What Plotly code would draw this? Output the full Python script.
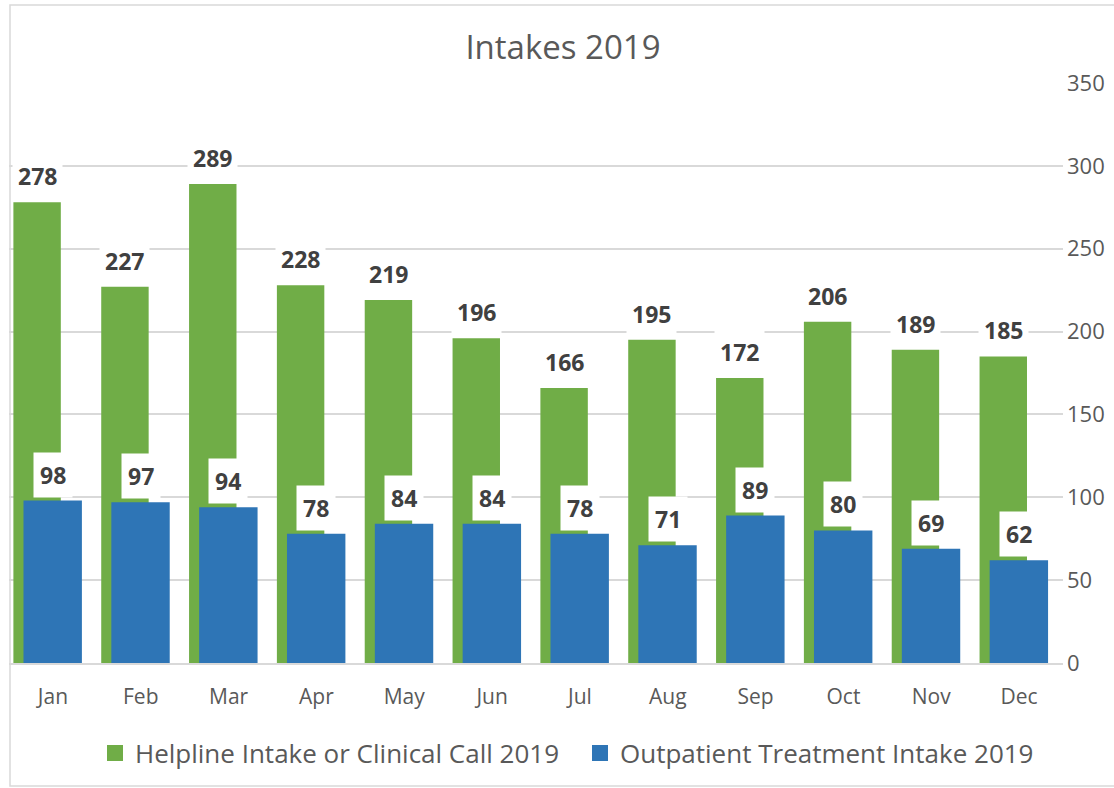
import plotly.graph_objects as go

months = ["Jan", "Feb", "Mar", "Apr", "May", "Jun", "Jul", "Aug", "Sep", "Oct", "Nov", "Dec"]
helpline = [278, 227, 289, 228, 219, 196, 166, 195, 172, 206, 189, 185]
outpatient = [98, 97, 94, 78, 84, 84, 78, 71, 89, 80, 69, 62]
y_ticks = [0, 50, 100, 150, 200, 250, 300, 350]
names = ["Helpline Intake or Clinical Call 2019", "Outpatient Treatment Intake 2019"]

GREEN = "#70AD47"
BLUE = "#2E75B6"
TXT = "#595959"
LBL = "#404040"
GRID = "#D9D9D9"

xs = list(range(len(months)))
g_off, g_w = -0.45, 0.54
b_off, b_w = -0.335, 0.665

fig = go.Figure()
fig.add_trace(go.Bar(x=xs, y=helpline, name=names[0], showlegend=False,
                     marker=dict(color=GREEN, line=dict(width=0)),
                     offset=g_off, width=g_w))
fig.add_trace(go.Bar(x=xs, y=outpatient, name=names[1], showlegend=False,
                     marker=dict(color=BLUE, line=dict(width=0)),
                     offset=b_off, width=b_w))
# legend entries with larger square markers
for nm, col in zip(names, [GREEN, BLUE]):
    fig.add_trace(go.Scatter(x=[None], y=[None], mode="markers", name=nm,
                             marker=dict(symbol="square", size=17, color=col)))

annos = []
for i, v in enumerate(helpline):
    annos.append(dict(x=i + g_off + g_w / 2, y=v, xref="x", yref="y", text=f"<b>{v}</b>",
                      showarrow=False, yanchor="middle", yshift=26,
                      font=dict(family="Open Sans", size=23, color=LBL),
                      bgcolor="white", borderpad=5))
for i, v in enumerate(outpatient):
    annos.append(dict(x=i + b_off + b_w / 2, y=v, xref="x", yref="y", text=f"<b>{v}</b>",
                      showarrow=False, yanchor="middle", yshift=26,
                      font=dict(family="Open Sans", size=23, color=LBL),
                      bgcolor="white", borderpad=6))

fig.update_layout(
    width=1114, height=788,
    margin=dict(l=9, r=51, t=83, b=125),
    paper_bgcolor="white", plot_bgcolor="white",
    barmode="overlay",
    title=dict(text="Intakes 2019", x=563 / 1114, xref="container", xanchor="center",
               y=1 - 47 / 788, yref="container", yanchor="middle",
               font=dict(family="Open Sans", size=33, color=TXT)),
    xaxis=dict(range=[-0.5, 11.5], tickvals=xs, ticktext=months, showgrid=False,
               showline=True, linecolor=GRID, linewidth=1.5, zeroline=False,
               ticks="", ticklabelstandoff=14,
               tickfont=dict(family="Open Sans", size=21, color=TXT)),
    yaxis=dict(range=[0, 350], side="right", tickvals=y_ticks, showgrid=True,
               gridcolor=GRID, gridwidth=1.5, zeroline=False, showline=False,
               ticks="", ticklabelstandoff=3,
               tickfont=dict(family="Open Sans", size=22, color=TXT)),
    legend=dict(orientation="h", x=580 / 1114, xref="container", xanchor="center",
                y=1 - 753 / 788, yref="container", yanchor="middle",
                font=dict(family="Open Sans", size=26, color=TXT),
                itemwidth=30, entrywidth=440, entrywidthmode="pixels"),
    annotations=annos,
    shapes=[dict(type="rect", xref="paper", yref="paper",
                 x0=(10 - 9) / 1054, x1=1.5, y0=(663 - 786) / 580, y1=(663 - 5) / 580,
                 line=dict(color=GRID, width=1.5), layer="below")],
    showlegend=True,
)

fig.write_html("out.html")
